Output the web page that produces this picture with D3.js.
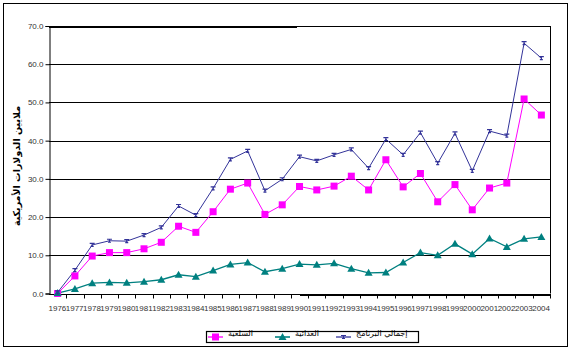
<!DOCTYPE html>
<html><head><meta charset="utf-8">
<script src="https://cdn.jsdelivr.net/npm/d3@7"></script>
<style>body{margin:0;background:#fff}svg{display:block}</style>
</head><body>
<svg id="c" width="571" height="350"></svg>
<script>
const years = ["1976","1977","1978","1979","1980","1981","1982","1983","1984","1985","1986","1987","1988","1989","1990","1991","1992","1993","1994","1995","1996","1997","1998","1999","2000","2001","2002","2003","2004"];
const commodity = [0,4.6,9.8,10.7,10.7,11.7,13.4,17.6,16.0,21.4,27.3,28.9,20.7,23.2,28.0,27.1,28.1,30.7,27.1,35.0,27.9,31.4,24.0,28.5,21.9,27.6,28.9,50.9,46.7];
const food = [0.1,1.2,2.7,2.9,2.8,3.1,3.6,4.9,4.4,6.0,7.6,8.1,5.7,6.5,7.7,7.5,7.9,6.5,5.4,5.5,8.1,10.7,10.0,13.0,10.3,14.4,12.2,14.3,14.8];
const total = [0.3,6.1,12.7,13.8,13.7,15.3,17.3,22.9,20.5,27.5,35.1,37.3,26.9,29.9,35.8,34.7,36.3,37.7,32.8,40.4,36.3,42.1,34.1,41.9,32.1,42.5,41.3,65.5,61.6];
const yTicks = [0,10,20,30,40,50,60,70];
const seriesNames = ["السلعية","الغذائية","إجمالي البرنامج"];
const yTitle = "ملايين الدولارات الأمريكية";

const svg = d3.select("#c");
const L=49, R=550, T=26, B=293.5;
const x = d3.scaleBand().domain(years).range([L,R]).padding(0);
const y = d3.scaleLinear().domain([0,70]).range([B,T]);
const cx = d => x(d)+x.bandwidth()/2;

// outer border
svg.append("rect").attr("x",3.5).attr("y",3.5).attr("width",564).attr("height",343)
  .attr("fill","none").attr("stroke","#000").attr("stroke-width",1);

// gridlines
svg.append("g").selectAll("line").data(yTicks.filter(v=>v>0&&v<70)).join("line")
  .attr("x1",L).attr("x2",R).attr("y1",d=>Math.round(y(d))+0.5).attr("y2",d=>Math.round(y(d))+0.5)
  .attr("stroke","#000").attr("stroke-width",1);
// top line (thick left part, thin rest)
svg.append("line").attr("x1",L).attr("x2",R).attr("y1",T+0.5).attr("y2",T+0.5).attr("stroke","#000").attr("stroke-width",1);
svg.append("line").attr("x1",L).attr("x2",297).attr("y1",T+1).attr("y2",T+1).attr("stroke","#000").attr("stroke-width",2);
// right border
svg.append("line").attr("x1",R+0.5).attr("x2",R+0.5).attr("y1",T).attr("y2",B).attr("stroke","#000");

// y axis
const ya = d3.axisLeft(y).tickValues(yTicks).tickFormat(d3.format(".1f")).tickSize(4).tickPadding(2);
const gy = svg.append("g").attr("transform",`translate(${L+0.5},0)`).call(ya);
gy.selectAll("text").attr("font-family","Liberation Sans, Arial").attr("font-size",8).attr("fill","#333");
gy.select(".domain").attr("stroke","#000");

// x axis
const xa = d3.axisBottom(x).tickSize(0).tickFormat(d=>d);
const gx = svg.append("g").attr("transform",`translate(0,${Math.round(B)+0.5})`).call(xa);
gx.select(".domain").remove();
gx.append("line").attr("x1",L).attr("x2",R+1).attr("stroke","#000");
gx.append("line").attr("x1",300).attr("x2",R+1).attr("y1",0.5).attr("y2",0.5).attr("stroke","#000").attr("stroke-width",2);
gx.selectAll(".tick text").attr("font-family","Liberation Sans, Arial").attr("font-size",8).attr("fill","#333")
  .attr("text-anchor","end").attr("dx",x.bandwidth()/2).attr("y",11).attr("dy","0.71em");
// boundary ticks
gx.append("g").selectAll("line").data(years.slice(1).concat(["__end"])).join("line")
  .attr("x1",(d,i)=>Math.round(x(years[i])+x.bandwidth())+0.5).attr("x2",(d,i)=>Math.round(x(years[i])+x.bandwidth())+0.5)
  .attr("y1",0).attr("y2",4).attr("stroke","#000");

// y title
svg.append("text").attr("transform","translate(20,166) rotate(-90)").attr("text-anchor","middle")
  .attr("font-family","DejaVu Sans").attr("font-weight","bold").attr("font-size",9.5).attr("direction","rtl")
  .text(yTitle);

const line = d3.line().x((d,i)=>cx(years[i])).y(d=>y(d));
const series = [
  {vals: commodity, color:"#FF00FF", w:1, marker:"sq"},
  {vals: food, color:"#008080", w:1.3, marker:"tri"},
  {vals: total, color:"#333399", w:1, marker:"star"}
];
series.forEach(s=>{
  svg.append("path").attr("d",line(s.vals)).attr("fill","none").attr("stroke",s.color).attr("stroke-width",s.w);
});
function drawMarker(g, type, color, px, py){
  if(type==="sq"){
    g.append("rect").attr("x",px-3.5).attr("y",py-3.5).attr("width",7).attr("height",7).attr("fill",color);
  } else if(type==="tri"){
    g.append("path").attr("d",`M${px},${py-4}L${px+4},${py+3}L${px-4},${py+3}Z`).attr("fill",color);
  } else {
    g.append("path").attr("d",`M${px-2.5},${py-1.5}H${px+2.5}M${px},${py-2}V${py+2}M${px-1.5},${py+1.5}H${px+1.5}`)
      .attr("stroke",color).attr("stroke-width",1.2).attr("fill","none");
  }
}
series.forEach(s=>{
  const g = svg.append("g");
  s.vals.forEach((v,i)=>drawMarker(g,s.marker,s.color,cx(years[i]),y(v)));
});

// legend
svg.append("rect").attr("x",206.5).attr("y",331.5).attr("width",212).attr("height",11)
  .attr("fill","none").attr("stroke","#000").attr("stroke-width",1.2);
const legX = [208, 275, 336];
series.forEach((s,i)=>{
  const g = svg.append("g");
  g.append("line").attr("x1",legX[i]).attr("x2",legX[i]+15).attr("y1",337).attr("y2",337).attr("stroke",s.color).attr("stroke-width",s.w+0.3);
  drawMarker(g,s.marker,s.color,legX[i]+7.5,337);
  g.append("text").attr("x",legX[i]+20).attr("y",336).attr("font-family","DejaVu Sans").attr("font-size",8)
    .attr("fill","#000").attr("direction","rtl").attr("text-anchor","end").text(seriesNames[i]);
});
</script>
</body></html>
